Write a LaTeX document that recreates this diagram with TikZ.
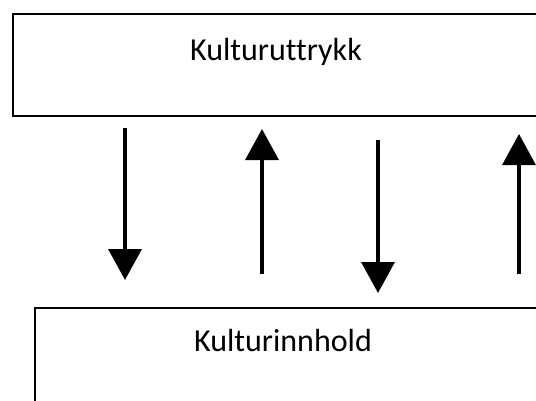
\documentclass[tikz,border=0pt]{standalone}
\usepackage{fontspec}
\setmainfont{Carlito}[Ligatures=NoCommon]
\usetikzlibrary{arrows.meta}
\tikzstyle{boks} = [draw=black, line width=2pt, fill=white, rectangle, anchor=north west]
\tikzstyle{tekst} = [font={\fontsize{32}{38}\selectfont}, inner sep=0pt]
\tikzstyle{pil} = [line width=3.5pt, -{Triangle[width=33pt,length=31pt]}]

\begin{document}
\begin{tikzpicture}[x=1pt,y=-1pt]
        \useasboundingbox (0,0) rectangle (536,400);
        \clip (0,0) rectangle (536,400);
        \node[boks,minimum width=560pt,minimum height=102pt](uttrykk) at (12,13){};
        \node[boks,minimum width=540pt,minimum height=120pt](innhold) at (34,307){};
        \node[tekst](t1) at (276,52){Kulturuttrykk};
        \node[tekst](t2) at (283,341){Kulturinnhold};
        \coordinate (a1) at (125,128);
        \coordinate (b1) at (125,280);
        \coordinate (a2) at (262,274);
        \coordinate (b2) at (262,129);
        \coordinate (a3) at (378,140);
        \coordinate (b3) at (378,293);
        \coordinate (a4) at (519,274);
        \coordinate (b4) at (519,134);
        \draw[pil](a1)--(b1);
        \draw[pil](a2)--(b2);
        \draw[pil](a3)--(b3);
        \draw[pil](a4)--(b4);
      \end{tikzpicture}
\end{document}
